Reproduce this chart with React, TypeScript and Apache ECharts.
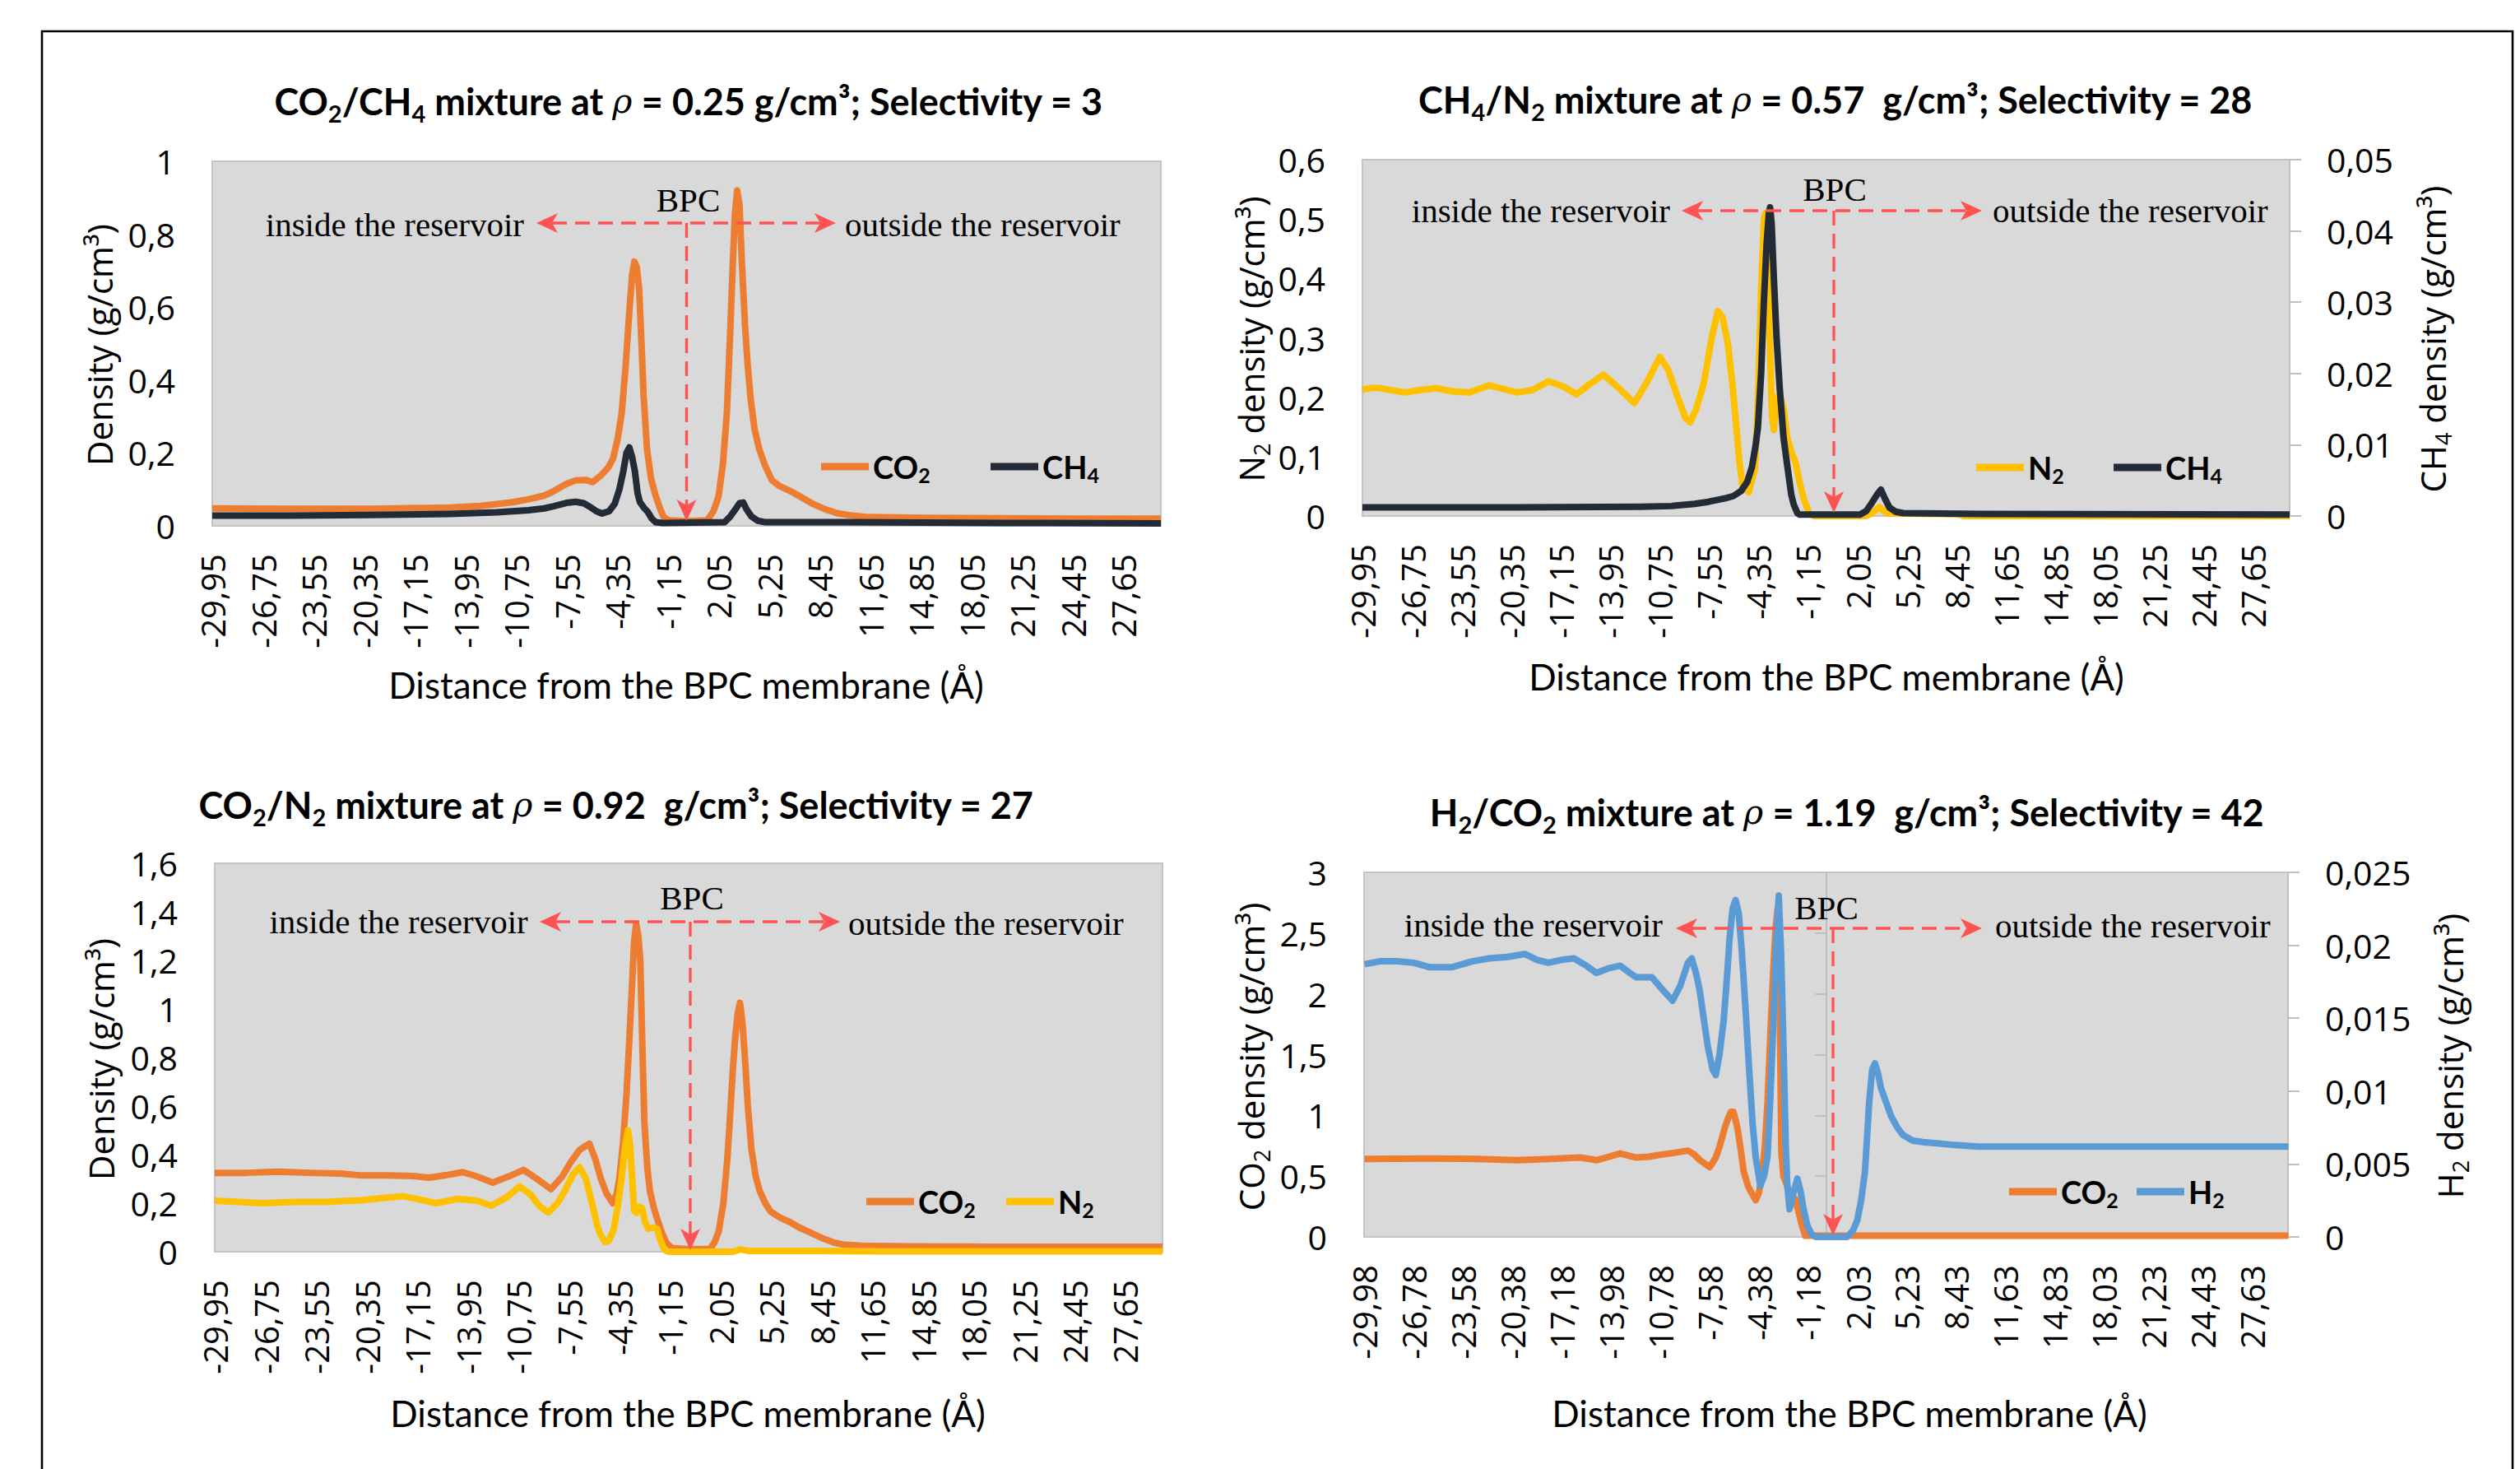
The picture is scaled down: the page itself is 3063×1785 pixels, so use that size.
import React, { useEffect, useRef } from 'react';
import * as echarts from 'echarts';

const W = 3063;
const H = 1785;

const ORANGE = '#ED7D31';
const DARK = '#232B36';
const YELLOW = '#FFC000';
const BLUE = '#5B9BD5';
const RED = '#FF5252';

// x tick labels
const xTicksA = ['-29,95', '-26,75', '-23,55', '-20,35', '-17,15', '-13,95', '-10,75', '-7,55', '-4,35', '-1,15', '2,05', '5,25', '8,45', '11,65', '14,85', '18,05', '21,25', '24,45', '27,65'];
const xTicksB = ['-29,98', '-26,78', '-23,58', '-20,38', '-17,18', '-13,98', '-10,78', '-7,58', '-4,38', '-1,18', '2,03', '5,23', '8,43', '11,63', '14,83', '18,03', '21,23', '24,43', '27,63'];

// Panel 1: CO2/CH4
const p1CO2 = [[-30, 0.048], [-25, 0.047], [-20, 0.047], [-15, 0.05], [-13, 0.055], [-11, 0.065], [-10, 0.073], [-9, 0.083], [-8.5, 0.093], [-7.6, 0.115], [-7.0, 0.125], [-6.4, 0.126], [-5.95, 0.12], [-5.45, 0.137], [-4.95, 0.16], [-4.65, 0.185], [-4.35, 0.24], [-4.1, 0.31], [-3.85, 0.44], [-3.6, 0.6], [-3.44, 0.69], [-3.3, 0.725], [-3.15, 0.71], [-3.0, 0.65], [-2.85, 0.5], [-2.72, 0.36], [-2.5, 0.21], [-2.25, 0.13], [-1.97, 0.085], [-1.7, 0.05], [-1.45, 0.024], [-1.1, 0.015], [0, 0.013], [1.3, 0.015], [1.7, 0.04], [2.02, 0.08], [2.3, 0.17], [2.55, 0.31], [2.75, 0.52], [2.9, 0.69], [3.05, 0.85], [3.2, 0.92], [3.35, 0.88], [3.5, 0.72], [3.7, 0.55], [3.85, 0.45], [4.05, 0.35], [4.3, 0.265], [4.6, 0.21], [4.97, 0.165], [5.4, 0.125], [5.85, 0.11], [6.5, 0.097], [7.2, 0.08], [8.0, 0.06], [8.8, 0.045], [9.5, 0.035], [10.5, 0.028], [11.5, 0.024], [15, 0.022], [20, 0.021], [25, 0.02], [30, 0.02]];
const p1CH4 = [[-30, 0.028], [-25, 0.028], [-20, 0.03], [-15, 0.033], [-12, 0.037], [-10, 0.043], [-9, 0.048], [-8.4, 0.054], [-7.6, 0.063], [-7.0, 0.066], [-6.5, 0.062], [-6.1, 0.052], [-5.7, 0.04], [-5.35, 0.034], [-4.9, 0.04], [-4.55, 0.06], [-4.25, 0.1], [-4.0, 0.15], [-3.8, 0.2], [-3.62, 0.215], [-3.45, 0.19], [-3.27, 0.15], [-3.1, 0.09], [-2.95, 0.065], [-2.7, 0.05], [-2.45, 0.038], [-2.2, 0.02], [-1.95, 0.01], [-1.5, 0.008], [2.4, 0.01], [2.75, 0.025], [3.05, 0.043], [3.35, 0.062], [3.58, 0.064], [3.8, 0.045], [4.1, 0.026], [4.5, 0.014], [5.0, 0.01], [10, 0.01], [20, 0.008], [30, 0.007]];

// Panel 2: CH4/N2
const p2N2 = [[-30, 0.213], [-29.3, 0.216], [-28.8, 0.215], [-27.3, 0.208], [-26.3, 0.212], [-25.2, 0.215], [-24.2, 0.21], [-23.1, 0.208], [-21.8, 0.22], [-20.0, 0.208], [-19.0, 0.212], [-17.95, 0.227], [-17.0, 0.218], [-16.15, 0.205], [-15.3, 0.222], [-14.4, 0.238], [-13.4, 0.215], [-12.4, 0.19], [-11.6, 0.225], [-10.75, 0.268], [-10.2, 0.245], [-9.6, 0.2], [-9.1, 0.165], [-8.8, 0.158], [-8.4, 0.18], [-7.9, 0.225], [-7.4, 0.3], [-7.0, 0.345], [-6.7, 0.335], [-6.35, 0.29], [-6.05, 0.22], [-5.84, 0.16], [-5.6, 0.09], [-5.4, 0.05], [-5.0, 0.04], [-4.6, 0.08], [-4.4, 0.2], [-4.2, 0.38], [-4.02, 0.5], [-3.9, 0.51], [-3.7, 0.35], [-3.5, 0.17], [-3.38, 0.145], [-3.2, 0.2], [-2.95, 0.2], [-2.75, 0.18], [-2.5, 0.13], [-2.2, 0.105], [-1.97, 0.09], [-1.7, 0.055], [-1.45, 0.03], [-1.1, 0.005], [-0.8, 0], [2.6, 0], [3.0, 0.005], [3.45, 0.015], [3.9, 0.005], [4.4, 0.004], [8.5, 0.003], [9.0, 0], [30, 0]];
const p2CH4 = [[-30, 0.0012], [-20, 0.0012], [-12, 0.0013], [-10, 0.0014], [-8.5, 0.0017], [-7.6, 0.002], [-6.5, 0.0025], [-6.0, 0.0028], [-5.5, 0.0035], [-5.1, 0.0048], [-4.8, 0.0068], [-4.55, 0.01], [-4.41, 0.0124], [-4.2, 0.02], [-4.03, 0.0297], [-3.85, 0.038], [-3.7, 0.0425], [-3.62, 0.0433], [-3.52, 0.041], [-3.38, 0.0335], [-3.2, 0.025], [-3.0, 0.018], [-2.75, 0.011], [-2.48, 0.0066], [-2.25, 0.003], [-2.09, 0.0016], [-1.85, 0.0004], [-1.7, 0.0002], [2.2, 0.0002], [2.6, 0.0007], [2.95, 0.0018], [3.3, 0.003], [3.55, 0.0037], [3.8, 0.0025], [4.1, 0.0012], [4.5, 0.0006], [5.0, 0.0004], [10, 0.0003], [30, 0.0002]];

// Panel 3: CO2/N2
const p3CO2 = [[-30, 0.325], [-28, 0.325], [-26, 0.33], [-24, 0.325], [-22, 0.322], [-20.7, 0.314], [-19, 0.314], [-17.5, 0.312], [-16.4, 0.305], [-15.4, 0.315], [-14.3, 0.328], [-13.4, 0.31], [-12.4, 0.285], [-11.4, 0.31], [-10.45, 0.337], [-9.6, 0.3], [-8.71, 0.258], [-8.0, 0.31], [-7.5, 0.365], [-6.9, 0.42], [-6.28, 0.445], [-5.9, 0.38], [-5.58, 0.305], [-5.2, 0.24], [-4.8, 0.2], [-4.55, 0.24], [-4.37, 0.31], [-4.15, 0.45], [-3.93, 0.65], [-3.75, 0.88], [-3.58, 1.1], [-3.45, 1.28], [-3.32, 1.35], [-3.18, 1.3], [-3.06, 1.2], [-2.93, 0.85], [-2.8, 0.535], [-2.62, 0.35], [-2.45, 0.25], [-2.2, 0.18], [-2.01, 0.14], [-1.7, 0.08], [-1.41, 0.037], [-1.06, 0.015], [0, 0.01], [1.37, 0.012], [1.65, 0.04], [1.9, 0.082], [2.2, 0.2], [2.45, 0.38], [2.6, 0.535], [2.8, 0.75], [2.94, 0.875], [3.1, 0.98], [3.25, 1.025], [3.4, 0.95], [3.55, 0.815], [3.75, 0.6], [3.98, 0.42], [4.25, 0.31], [4.5, 0.25], [4.85, 0.2], [5.2, 0.165], [5.8, 0.14], [6.42, 0.122], [7.0, 0.1], [7.5, 0.085], [8.5, 0.055], [9.2, 0.038], [9.75, 0.03], [11, 0.025], [14, 0.022], [20, 0.02], [30, 0.02]];
const p3N2 = [[-30, 0.21], [-28.5, 0.205], [-27, 0.2], [-25, 0.205], [-23, 0.205], [-21.5, 0.21], [-20.7, 0.212], [-19.5, 0.22], [-18.1, 0.229], [-17, 0.215], [-16.0, 0.2], [-15.2, 0.21], [-14.6, 0.218], [-13.4, 0.21], [-12.5, 0.19], [-11.5, 0.225], [-10.7, 0.269], [-10.0, 0.235], [-9.4, 0.185], [-8.88, 0.162], [-8.3, 0.2], [-7.83, 0.252], [-7.3, 0.32], [-6.9, 0.348], [-6.5, 0.3], [-6.1, 0.196], [-5.8, 0.11], [-5.58, 0.071], [-5.3, 0.04], [-5.05, 0.045], [-4.75, 0.09], [-4.5, 0.18], [-4.25, 0.3], [-4.05, 0.42], [-3.85, 0.5], [-3.72, 0.45], [-3.58, 0.308], [-3.45, 0.17], [-3.3, 0.16], [-3.1, 0.185], [-2.95, 0.18], [-2.75, 0.12], [-2.55, 0.095], [-2.2, 0.1], [-2.0, 0.095], [-1.8, 0.05], [-1.58, 0.015], [-1.4, 0.003], [-1.2, 0], [2.8, 0], [3.3, 0.01], [3.8, 0.003], [8, 0.003], [12, 0.002], [30, 0.002]];

// Panel 4: H2/CO2
const p4CO2 = [[-30, 0.642], [-26, 0.645], [-22.7, 0.642], [-20.1, 0.632], [-18, 0.642], [-16, 0.653], [-14.9, 0.632], [-13.4, 0.687], [-12.36, 0.653], [-11.5, 0.66], [-10.8, 0.676], [-10, 0.69], [-9.0, 0.71], [-8.6, 0.68], [-8.22, 0.631], [-7.58, 0.575], [-7.2, 0.65], [-6.94, 0.744], [-6.6, 0.9], [-6.41, 0.97], [-6.2, 1.03], [-6.05, 1.03], [-5.9, 0.96], [-5.76, 0.88], [-5.55, 0.7], [-5.38, 0.54], [-5.1, 0.42], [-4.86, 0.36], [-4.6, 0.303], [-4.4, 0.36], [-4.22, 0.473], [-4.0, 0.75], [-3.83, 1.106], [-3.6, 1.8], [-3.44, 2.237], [-3.3, 2.55], [-3.18, 2.7], [-3.08, 2.55], [-3.0, 1.5], [-2.93, 0.7], [-2.8, 0.5], [-2.5, 0.4], [-2.2, 0.33], [-2.02, 0.31], [-1.8, 0.2], [-1.63, 0.11], [-1.39, 0.01], [30, 0.01]];
const p4H2 = [[-30, 0.0187], [-29, 0.0189], [-27.9, 0.0189], [-26.8, 0.0188], [-25.8, 0.0185], [-24.3, 0.0185], [-23.0, 0.0189], [-21.9, 0.0191], [-20.7, 0.0192], [-19.6, 0.0194], [-18.8, 0.019], [-18.07, 0.0188], [-17.2, 0.019], [-16.4, 0.0191], [-15.6, 0.0186], [-14.95, 0.0181], [-14.2, 0.0184], [-13.4, 0.0186], [-12.9, 0.0182], [-12.36, 0.0178], [-11.33, 0.0178], [-10.6, 0.0169], [-10.0, 0.0162], [-9.5, 0.0172], [-9.0, 0.0188], [-8.75, 0.0191], [-8.45, 0.018], [-8.22, 0.0168], [-7.95, 0.0148], [-7.7, 0.013], [-7.4, 0.0115], [-7.19, 0.0111], [-6.95, 0.0125], [-6.67, 0.0149], [-6.45, 0.018], [-6.29, 0.0205], [-6.1, 0.0225], [-5.9, 0.0231], [-5.7, 0.0222], [-5.5, 0.0196], [-5.25, 0.0155], [-5.0, 0.0111], [-4.8, 0.0078], [-4.6, 0.0055], [-4.3, 0.0035], [-4.05, 0.0042], [-3.83, 0.0055], [-3.65, 0.0095], [-3.44, 0.0149], [-3.25, 0.0205], [-3.1, 0.0234], [-2.95, 0.0195], [-2.79, 0.013], [-2.65, 0.0065], [-2.55, 0.0036], [-2.4, 0.0019], [-2.15, 0.003], [-1.89, 0.004], [-1.7, 0.0032], [-1.5, 0.002], [-1.25, 0.0008], [-0.98, 0.0002], [-0.7, 0], [1.33, 0], [1.7, 0.0004], [1.99, 0.0011], [2.25, 0.0025], [2.5, 0.0045], [2.77, 0.0092], [2.97, 0.0115], [3.15, 0.0119], [3.35, 0.0112], [3.54, 0.0102], [4.19, 0.0083], [4.6, 0.0075], [4.96, 0.007], [5.6, 0.0066], [6.26, 0.0065], [7.3, 0.0064], [8.33, 0.0063], [9.87, 0.0062], [14, 0.0062], [20, 0.0062], [25, 0.0062], [30, 0.0062]];

const titles = [
  '{b|CO}{s|2}{b|/CH}{s|4}{b| mixture at }{i|ρ}{b| = 0.25 g/cm³; Selectivity = 3}',
  '{b|CH}{s|4}{b|/N}{s|2}{b| mixture at }{i|ρ}{b| = 0.57\u00a0\u00a0g/cm³; Selectivity = 28}',
  '{b|CO}{s|2}{b|/N}{s|2}{b| mixture at }{i|ρ}{b| = 0.92\u00a0\u00a0g/cm³; Selectivity = 27}',
  '{b|H}{s|2}{b|/CO}{s|2}{b| mixture at }{i|ρ}{b| = 1.19\u00a0\u00a0g/cm³; Selectivity = 42}',
];
const xName = 'Distance from the BPC membrane (Å)';

const fmtY = (v: number) => String(parseFloat(Number(v).toFixed(4))).replace('.', ',');

const SUB: Record<string, string> = {
  CO2: '{b|CO}{s|2}',
  CH4: '{b|CH}{s|4}',
  N2: '{b|N}{s|2}',
  H2: '{b|H}{s|2}',
};

function xAxisCfg(gridIndex: number, ticks: string[], min: number, max: number) {
  const vals = ticks.map((t) => parseFloat(t.replace(',', '.')));
  return {
    type: 'value',
    gridIndex,
    min,
    max,
    axisLine: { show: false },
    axisTick: { show: false },
    splitLine: { show: false },
    axisLabel: {
      customValues: vals,
      rotate: 90,
      margin: 34,
      fontSize: 40,
      fontFamily: 'Open Sans',
      color: '#000',
      formatter: (v: number) => {
        let bi = 0;
        vals.forEach((t, i) => {
          if (Math.abs(t - v) < Math.abs(vals[bi] - v)) bi = i;
        });
        return ticks[bi];
      },
    },
  };
}

function yAxisCfg(gridIndex: number, max: number, interval: number, position: string, ticks: boolean) {
  return {
    type: 'value',
    gridIndex,
    min: 0,
    max,
    interval,
    position,
    axisLine: { show: ticks, lineStyle: { color: '#bfbfbf', width: 2 } },
    axisTick: { show: ticks, length: 14, lineStyle: { color: '#bfbfbf', width: 2 } },
    splitLine: { show: false },
    axisLabel: { margin: 45, fontSize: 41, fontFamily: 'Open Sans', color: '#000', formatter: fmtY },
  };
}

function lineSeries(name: string, xi: number, yi: number, data: number[][], color: string) {
  return {
    type: 'line',
    name,
    xAxisIndex: xi,
    yAxisIndex: yi,
    data,
    symbol: 'none',
    showSymbol: false,
    clip: false,
    color,
    itemStyle: { color },
    lineStyle: { color, width: 8, join: 'round', cap: 'butt' },
    emphasis: { disabled: true },
  };
}

function legendCfg(name: string, left: number, cy: number) {
  return {
    data: [name],
    left,
    top: cy - 22,
    padding: 0,
    itemWidth: 58,
    itemHeight: 9,
    icon: 'rect',
    selectedMode: false,
    formatter: (n: string) => SUB[n] || n,
    textStyle: {
      color: '#000',
      rich: {
        b: { fontFamily: 'Lato', fontWeight: 'bold', fontSize: 38, lineHeight: 40, color: '#000' },
        s: { fontFamily: 'Lato', fontWeight: 'bold', fontSize: 25, lineHeight: 44, verticalAlign: 'bottom', color: '#000' },
      },
    },
  };
}

const titleRich = {
  b: { fontFamily: 'Lato', fontWeight: 'bold', fontSize: 45, lineHeight: 50, fill: '#000' },
  s: { fontFamily: 'Lato', fontWeight: 'bold', fontSize: 29, lineHeight: 57, verticalAlign: 'bottom', fill: '#000' },
  i: { fontFamily: 'DejaVu Serif', fontStyle: 'italic', fontSize: 41, lineHeight: 50, fill: '#000' },
};
const nameRich = {
  n: { fontFamily: 'Open Sans', fontSize: 42, lineHeight: 48, fill: '#000' },
  s: { fontFamily: 'Open Sans', fontSize: 27, lineHeight: 54, verticalAlign: 'bottom', fill: '#000' },
};

function textEl(text: string, x: number, y: number, rich: any, rotation = 0) {
  return {
    type: 'text',
    x,
    y,
    rotation,
    z: 100,
    style: { text, rich, align: 'center', verticalAlign: 'middle', fill: '#000' },
  };
}

function plainText(text: string, x: number, y: number, align: string, size: number, family: string, rotation = 0) {
  return {
    type: 'text',
    x,
    y,
    rotation,
    z: 100,
    style: { text, align, verticalAlign: 'middle', fill: '#000', fontSize: size, fontFamily: family },
  };
}

type Ann = { lt: number; rt: number; hy: number; vx: number; vb: number; bx: number; by: number; ix: number; iy: number; ox: number; oy: number };

const SERIF = 'Liberation Serif';
const SERIF_SIZE = 41;

function annotation(a: Ann) {
  const dash = { stroke: RED, lineWidth: 3.3, lineDash: [18, 10] };
  const L = 26;
  const Hw = 12;
  const N = 19;
  return [
    { type: 'line', z: 100, shape: { x1: a.lt + N, y1: a.hy, x2: a.rt - N, y2: a.hy }, style: dash },
    { type: 'line', z: 100, shape: { x1: a.vx, y1: a.hy, x2: a.vx, y2: a.vb - N }, style: dash },
    { type: 'polygon', z: 100, shape: { points: [[a.lt, a.hy], [a.lt + L, a.hy - Hw], [a.lt + N, a.hy], [a.lt + L, a.hy + Hw]] }, style: { fill: RED } },
    { type: 'polygon', z: 100, shape: { points: [[a.rt, a.hy], [a.rt - L, a.hy - Hw], [a.rt - N, a.hy], [a.rt - L, a.hy + Hw]] }, style: { fill: RED } },
    { type: 'polygon', z: 100, shape: { points: [[a.vx, a.vb], [a.vx - Hw, a.vb - L], [a.vx, a.vb - N], [a.vx + Hw, a.vb - L]] }, style: { fill: RED } },
    plainText('BPC', a.bx, a.by, 'center', SERIF_SIZE, SERIF),
    plainText('inside the reservoir', a.ix, a.iy, 'right', SERIF_SIZE, SERIF),
    plainText('outside the reservoir', a.ox, a.oy, 'left', SERIF_SIZE, SERIF),
  ];
}

export default function App() {
  const ref = useRef<HTMLDivElement>(null);
  useEffect(() => {
    if (!ref.current) return;
    const chart = echarts.init(ref.current, null, { renderer: 'svg' });
    const gridStyle = { show: true, backgroundColor: '#d9d9d9', borderColor: '#c4c4c4', borderWidth: 2 };
    const graphic: any[] = [
      { type: 'polyline', z: 100, shape: { points: [[51, H + 10], [51, 38], [3054, 38], [3054, H + 10]] }, style: { stroke: '#000', lineWidth: 2.6, fill: 'none' } },
      textEl(titles[0], 837, 123, titleRich),
      textEl(titles[1], 2231, 121, titleRich),
      textEl(titles[2], 749, 978, titleRich),
      textEl(titles[3], 2245, 987, titleRich),
      plainText(xName, 834, 832, 'center', 44, 'Lato'),
      plainText(xName, 2220, 822, 'center', 44, 'Lato'),
      plainText(xName, 836, 1717, 'center', 44, 'Lato'),
      plainText(xName, 2248, 1717, 'center', 44, 'Lato'),
      textEl('{n|Density (g/cm³)}', 120, 419, nameRich, Math.PI / 2),
      textEl('{n|N}{s|2}{n| density (g/cm³)}', 1520, 412, nameRich, Math.PI / 2),
      textEl('{n|CH}{s|4}{n| density (g/cm³)}', 2956, 412, nameRich, Math.PI / 2),
      textEl('{n|Density (g/cm³)}', 122, 1287, nameRich, Math.PI / 2),
      textEl('{n|CO}{s|2}{n| density (g/cm³)}', 1520, 1284, nameRich, Math.PI / 2),
      textEl('{n|H}{s|2}{n| density (g/cm³)}', 2977, 1283, nameRich, Math.PI / 2),
      ...annotation({ lt: 652, rt: 1016, hy: 271, vx: 834.5, vb: 633, bx: 836.5, by: 243, ix: 637, iy: 273, ox: 1027, oy: 273 }),
      ...annotation({ lt: 2044, rt: 2409, hy: 256, vx: 2229, vb: 623, bx: 2230, by: 230, ix: 2030, iy: 256, ox: 2422, oy: 256 }),
      ...annotation({ lt: 656, rt: 1021, hy: 1120, vx: 839, vb: 1519, bx: 841, by: 1091, ix: 641.7, iy: 1120, ox: 1031, oy: 1122 }),
      ...annotation({ lt: 2037, rt: 2409, hy: 1128, vx: 2228, vb: 1501, bx: 2220, by: 1103, ix: 2021, iy: 1124, ox: 2425, oy: 1125 }),
    ];
    chart.setOption({
      animation: false,
      backgroundColor: '#fff',
      grid: [
        { left: 258, top: 196, width: 1153, height: 443, ...gridStyle },
        { left: 1656, top: 194, width: 1127, height: 433, ...gridStyle },
        { left: 261, top: 1049, width: 1152, height: 472, ...gridStyle },
        { left: 1658, top: 1060, width: 1123, height: 443, ...gridStyle },
      ],
      xAxis: [
        xAxisCfg(0, xTicksA, -30, 30),
        xAxisCfg(1, xTicksA, -30, 30),
        xAxisCfg(2, xTicksA, -30, 30),
        xAxisCfg(3, xTicksB, -30.03, 29.97),
      ],
      yAxis: [
        yAxisCfg(0, 1, 0.2, 'left', false),
        yAxisCfg(1, 0.6, 0.1, 'left', false),
        yAxisCfg(1, 0.05, 0.01, 'right', true),
        yAxisCfg(2, 1.6, 0.2, 'left', false),
        yAxisCfg(3, 3, 0.5, 'left', true),
        yAxisCfg(3, 0.025, 0.005, 'right', true),
      ],
      legend: [
        legendCfg('CO2', 998, 570),
        legendCfg('CH4', 1204, 570),
        legendCfg('N2', 2402, 571),
        legendCfg('CH4', 2569, 571),
        legendCfg('CO2', 1053, 1463),
        legendCfg('N2', 1223, 1463),
        legendCfg('CO2', 2442, 1451),
        legendCfg('H2', 2597, 1451),
      ],
      series: [
        lineSeries('CO2', 0, 0, p1CO2, ORANGE),
        lineSeries('CH4', 0, 0, p1CH4, DARK),
        lineSeries('N2', 1, 1, p2N2, YELLOW),
        lineSeries('CH4', 1, 2, p2CH4, DARK),
        lineSeries('CO2', 2, 3, p3CO2, ORANGE),
        lineSeries('N2', 2, 3, p3N2, YELLOW),
        lineSeries('CO2', 3, 4, p4CO2, ORANGE),
        lineSeries('H2', 3, 5, p4H2, BLUE),
      ],
      graphic,
    });
    return () => chart.dispose();
  }, []);
  return <div ref={ref} style={{ position: 'absolute', left: 0, top: 0, width: W, height: H, background: '#fff' }} />;
}
